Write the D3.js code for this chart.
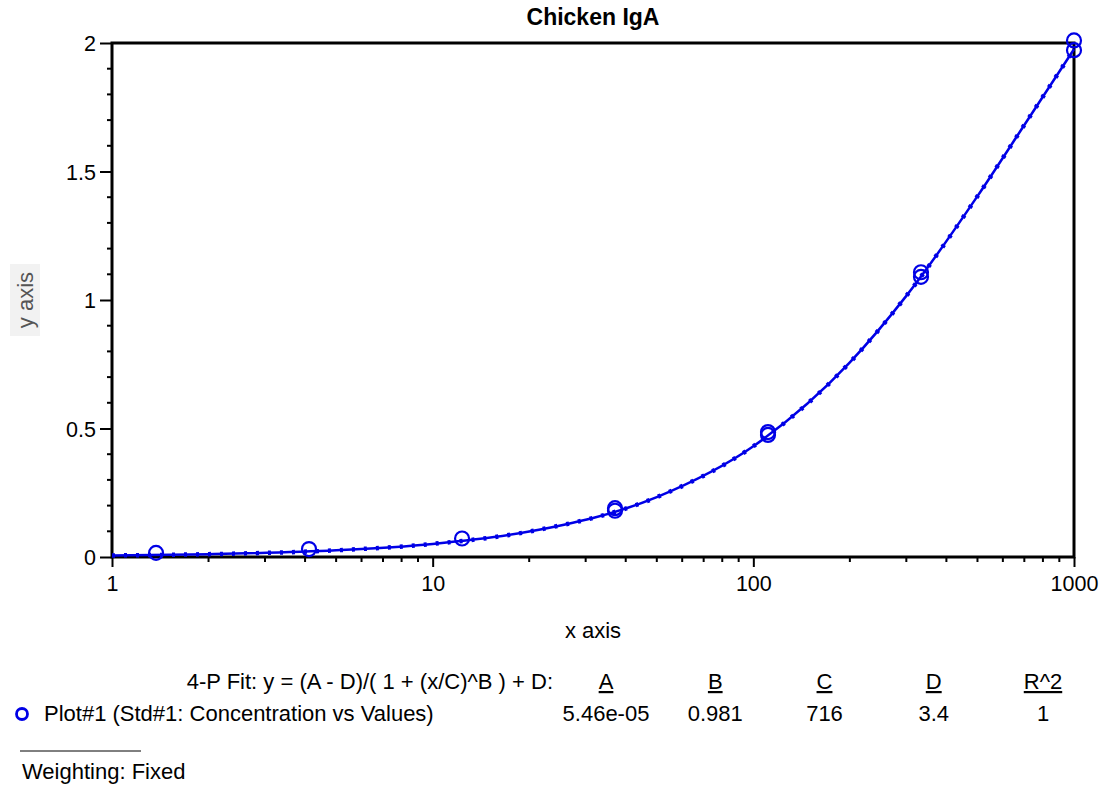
<!DOCTYPE html>
<html>
<head>
<meta charset="utf-8">
<script src="https://cdn.jsdelivr.net/npm/d3@7"></script>
<style>
  body { margin: 0; background: #fff; }
  svg { display: block; font-family: "Liberation Sans", Arial, sans-serif; }
</style>
</head>
<body>
<div id="chart"></div>
<script>
// standards (3-fold dilutions), duplicates
var concentrations = [1.372, 4.115, 12.35, 37.04, 37.04, 111.1, 111.1, 333.3, 333.3, 1000, 1000]
var values = [0.016, 0.031, 0.072, 0.19, 0.18, 0.486, 0.475, 1.108, 1.09, 2.01, 1.972]

// fitted curve
var curveX = [1, 2, 5, 10, 20, 50, 100, 200, 300, 500, 700, 1000]
var curveY = [0.006, 0.011, 0.026, 0.051, 0.099, 0.233, 0.431, 0.757, 1.016, 1.404, 1.681, 1.976]

var xTicks = [1, 10, 100, 1000]
var yTicks = [0, 0.5, 1, 1.5, 2]

var fitNames = ['A', 'B', 'C', 'D', 'R^2']
var fitValues = ['5.46e-05', '0.981', '716', '3.4', '1']

var cfg = {
  w: 1104, h: 786,
  margin: {top: 43, right: 30, bottom: 229, left: 112},
  blue: '#0000e6',
  font: '21.5px',
  legFont: '22px'
}

var iw = cfg.w - cfg.margin.left - cfg.margin.right,
  ih = cfg.h - cfg.margin.top - cfg.margin.bottom

var svg = d3.select('#chart').append('svg')
  .attr('width', cfg.w)
  .attr('height', cfg.h)

var g = svg.append('g')
  .attr('transform', 'translate(' + cfg.margin.left + ',' + cfg.margin.top + ')')

var x = d3.scaleLog().domain([1, 1000]).range([0, iw])
var y = d3.scaleLinear().domain([0, 2]).range([ih, 0])

// minor ticks
var xMinor = []
for (var dec = 1; dec < 1000; dec *= 10) {
  for (var k = 2; k <= 9; k++) xMinor.push(dec * k)
}
var yMinor = d3.range(0, 2.001, 0.1).filter(function(v) {
  return Math.abs(v * 2 - Math.round(v * 2)) > 1e-6
})

g.selectAll('.xminor').data(xMinor).enter().append('line')
  .attr('x1', d => x(d)).attr('x2', d => x(d))
  .attr('y1', ih).attr('y2', ih + 5)
  .style('stroke', '#000').style('stroke-width', 2)

g.selectAll('.yminor').data(yMinor).enter().append('line')
  .attr('x1', -5).attr('x2', 0)
  .attr('y1', d => y(d)).attr('y2', d => y(d))
  .style('stroke', '#000').style('stroke-width', 2)

var xAxis = g.append('g')
  .attr('transform', 'translate(0,' + ih + ')')
  .call(d3.axisBottom(x).tickValues(xTicks).tickFormat(d3.format('d')).tickSize(10).tickPadding(9))
var yAxis = g.append('g')
  .call(d3.axisLeft(y).tickValues(yTicks).tickFormat(d => d3.format('')(d)).tickSize(12).tickPadding(4))

;[xAxis, yAxis].forEach(function(a) {
  a.select('.domain').remove()
  a.selectAll('line').style('stroke', '#000').style('stroke-width', 2)
  a.selectAll('text').style('font-size', cfg.font).style('fill', '#000')
    .style('font-family', '"Liberation Sans", Arial, sans-serif')
})
yAxis.selectAll('text').attr('dy', '0.35em')

// frame
g.append('rect')
  .attr('x', 0).attr('y', 0).attr('width', iw).attr('height', ih)
  .style('fill', 'none').style('stroke', '#000').style('stroke-width', 3)

// fitted curve
var line = d3.line()
  .x(d => x(d[0]))
  .y(d => y(d[1]))
  .curve(d3.curveMonotoneX)

var curveData = curveX.map((c, i) => [c, curveY[i]])

g.append('path')
  .attr('d', line(curveData))
  .style('fill', 'none')
  .style('stroke', cfg.blue)
  .style('stroke-width', 2.5)

g.append('path')
  .attr('d', line(curveData))
  .style('fill', 'none')
  .style('stroke', cfg.blue)
  .style('stroke-width', 4.5)
  .style('stroke-dasharray', '3,9')

// points
g.selectAll('.pt').data(concentrations).enter().append('circle')
  .attr('cx', d => x(d))
  .attr('cy', (d, i) => y(values[i]))
  .attr('r', 7)
  .style('fill', 'none')
  .style('stroke', cfg.blue)
  .style('stroke-width', 2.2)

// titles
svg.append('text')
  .attr('x', cfg.margin.left + iw / 2).attr('y', 25)
  .attr('text-anchor', 'middle')
  .style('font-size', '23px').style('font-weight', 'bold')
  .text('Chicken IgA')

svg.append('text')
  .attr('x', cfg.margin.left + iw / 2).attr('y', 638)
  .attr('text-anchor', 'middle')
  .style('font-size', cfg.legFont)
  .text('x axis')

svg.append('rect')
  .attr('x', 10).attr('y', 264).attr('width', 30).attr('height', 72)
  .style('fill', '#f2f2f2')
svg.append('text')
  .attr('transform', 'translate(33,300) rotate(-90)')
  .attr('text-anchor', 'middle')
  .style('font-size', cfg.legFont).style('fill', '#555')
  .text('y axis')

// fit legend
var leg = svg.append('g').style('font-size', cfg.legFont)

leg.append('text')
  .attr('x', 553).attr('y', 689)
  .attr('text-anchor', 'end')
  .text('4-P Fit: y = (A - D)/( 1 + (x/C)^B ) + D:')

var colX = d3.scalePoint().domain(fitNames).range([606, 1043])

fitNames.forEach(function(n, i) {
  leg.append('text')
    .attr('x', colX(n)).attr('y', 689)
    .attr('text-anchor', 'middle')
    .style('text-decoration', 'underline')
    .text(n)
  leg.append('text')
    .attr('x', colX(n)).attr('y', 721)
    .attr('text-anchor', 'middle')
    .text(fitValues[i])
})

leg.append('circle')
  .attr('cx', 22).attr('cy', 714).attr('r', 5.5)
  .style('fill', 'none').style('stroke', cfg.blue).style('stroke-width', 2.8)

leg.append('text')
  .attr('x', 44).attr('y', 721)
  .text('Plot#1 (Std#1: Concentration vs Values)')

leg.append('line')
  .attr('x1', 20).attr('x2', 141).attr('y1', 751).attr('y2', 751)
  .style('stroke', '#000').style('stroke-width', 1)

leg.append('text')
  .attr('x', 22).attr('y', 779)
  .text('Weighting: Fixed')
</script>
</body>
</html>
